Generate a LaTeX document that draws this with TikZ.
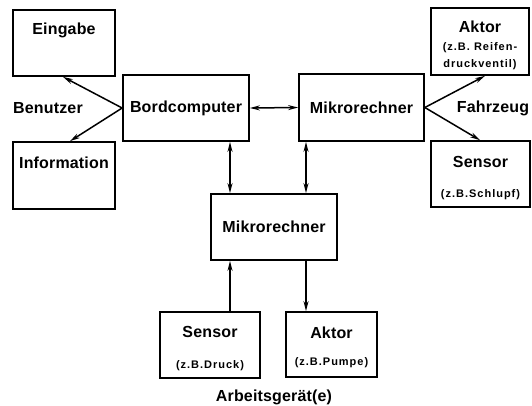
\documentclass[tikz,border=0pt]{standalone}
\usepackage{fontspec}
\setmainfont{Liberation Sans}[LetterSpace=1]
\newfontfamily\smallfam{Liberation Sans}[LetterSpace=9]
\usetikzlibrary{arrows.meta,calc}
\begin{document}
\begin{tikzpicture}[x=1pt,y=-1pt,
  box/.style={draw,line width=1.7pt,minimum width=#1,inner sep=0pt},
  lbl/.style={font=\bfseries\fontsize{16}{18}\selectfont,inner sep=0pt},
  sub/.style={font=\smallfam\bfseries\fontsize{11}{13}\selectfont,inner sep=0pt},
  conn/.style={line width=1.5pt},
  tip/.style={-{Stealth[length=10pt,width=5pt]}},
  bitip/.style={{Stealth[length=10pt,width=5pt]}-{Stealth[length=10pt,width=5pt]}}]
\useasboundingbox (0,0) rectangle (532,405);
% boxes
\node[box=102pt,minimum height=66pt] (eing) at (64,43) {};
\node[box=102pt,minimum height=67pt] (info) at (64,175.5) {};
\node[box=126pt,minimum height=66pt] (bord) at (186,108) {};
\node[box=125pt,minimum height=67pt] (mik1) at (361.5,107.5) {};
\node[box=98pt,minimum height=67pt] (akt1) at (480,41.5) {};
\node[box=99pt,minimum height=66pt] (sen1) at (480.5,174) {};
\node[box=126pt,minimum height=66pt] (mik2) at (274,227) {};
\node[box=100pt,minimum height=66pt] (sen2) at (210,345) {};
\node[box=91pt,minimum height=65pt] (akt2) at (331.5,344.5) {};
% texts
\node[lbl] (teing) at (64,30) {Eingabe};
\node[lbl] (tinfo) at (64,163) {Information};
\node[lbl] (tbord) at (bord.center) {Bordcomputer};
\node[lbl] (tmik1) at (mik1.center) {Mikrorechner};
\node[lbl] (takt1) at (480,27) {Aktor};
\node[sub] (takt1a) at (480,48) {(z.B. Reifen-};
\node[sub] (takt1b) at (480,65) {druckventil)};
\node[lbl] (tsen1) at (480.5,162) {Sensor};
\node[sub] (tsen1a) at (480.5,195) {(z.B.Schlupf)};
\node[lbl] (tmik2) at (mik2.center) {Mikrorechner};
\node[lbl] (tsen2) at (210,332) {Sensor};
\node[sub] (tsen2a) at (210,366) {(z.B.Druck)};
\node[lbl] (takt2) at (331.5,333) {Aktor};
\node[sub] (takt2a) at (331.5,363) {(z.B.Pumpe)};
\node[lbl] (benutzer) at (48,108) {Benutzer};
\node[lbl] (fahrzeug) at (493,108) {Fahrzeug};
\node[lbl] (arbeit) at (274,397) {Arbeitsgerät(e)};
% coordinates for vertical lines
\coordinate (xa) at (230,0);
\coordinate (xb) at (306,0);
\coordinate (eingc) at (63,0);
\coordinate (infoc) at (70,0);
\coordinate (akt1c) at (485,0);
\coordinate (sen1c) at (480,0);
% connectors
\draw[conn,tip] (bord.west) -- (eing.south -| eingc);
\draw[conn,tip] (bord.west) -- (info.north -| infoc);
\draw[conn,tip] (mik1.east) -- (akt1.south -| akt1c);
\draw[conn,tip] (mik1.east) -- (sen1.north -| sen1c);
\draw[conn,bitip] (bord.east) -- (mik1.west);
\draw[conn,bitip] (bord.south -| xa) -- (mik2.north -| xa);
\draw[conn,bitip] (mik1.south -| xb) -- (mik2.north -| xb);
\draw[conn,tip] (sen2.north -| xa) -- (mik2.south -| xa);
\draw[conn,tip] (mik2.south -| xb) -- (akt2.north -| xb);
\end{tikzpicture}
\end{document}
